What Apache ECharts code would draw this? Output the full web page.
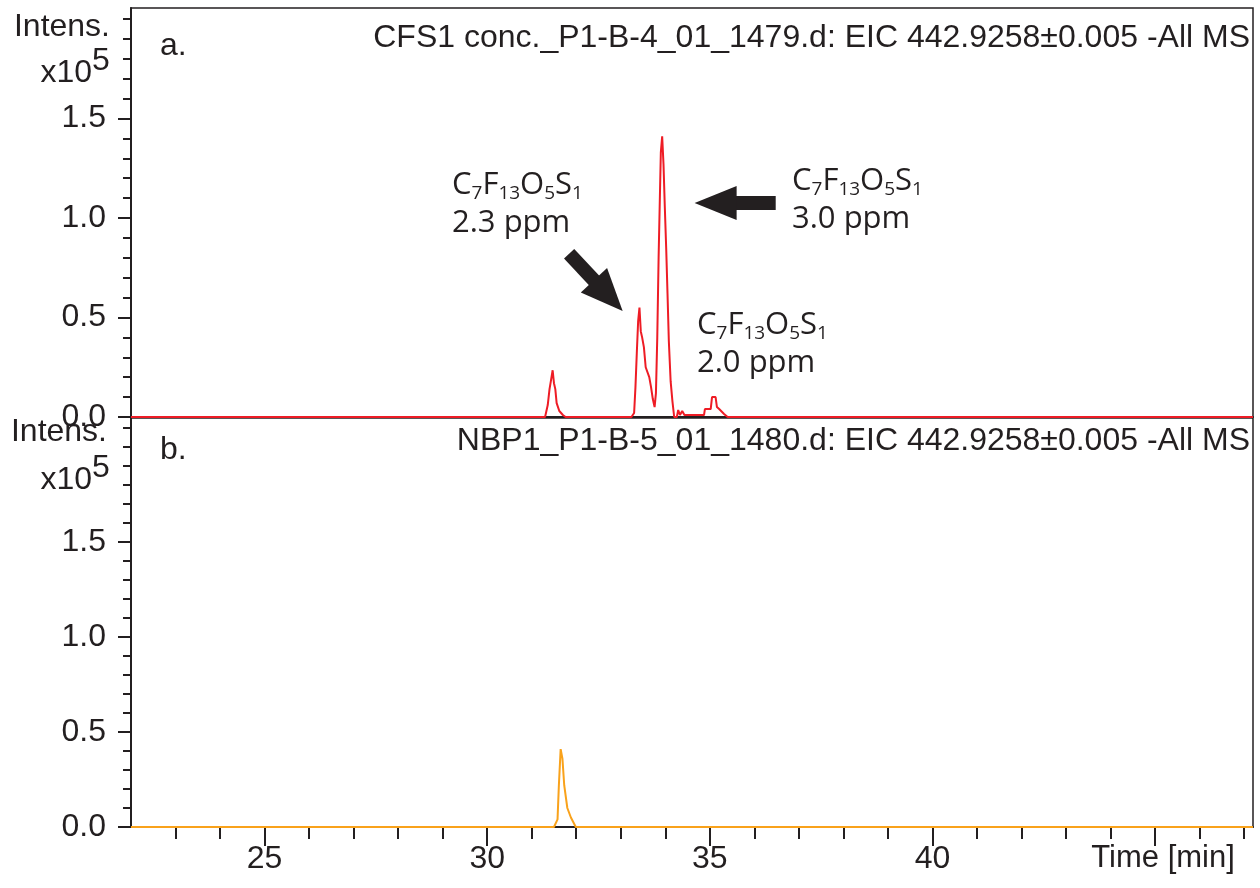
<!DOCTYPE html>
<html>
<head>
<meta charset="utf-8">
<script src="https://cdn.jsdelivr.net/npm/echarts@6.0.0/dist/echarts.min.js"></script>
<style>
  html, body { margin: 0; padding: 0; background: #fff; }
  #main { width: 1260px; height: 888px; }
</style>
</head>
<body>
<div id="main"></div>
<script>
// a. CFS1 conc. EIC trace (time in min, intensity in x10^5)
const redTime = [22.00, 31.30, 31.36, 31.40, 31.43, 31.47, 31.50, 31.53, 31.56, 31.62, 31.70, 31.76,
  33.24, 33.30, 33.33, 33.36, 33.39, 33.42, 33.45, 33.48, 33.52, 33.56, 33.60, 33.64, 33.68, 33.72, 33.76,
  33.79, 33.82, 33.85, 33.88, 33.90, 33.93, 33.96, 33.99, 34.02, 34.05, 34.08, 34.12, 34.16, 34.20,
  34.26, 34.29, 34.33, 34.38, 34.43, 34.87, 34.89, 35.02, 35.05, 35.13, 35.16, 35.21, 35.32, 35.40, 47.20];
const redIntens = [0, 0, 0.06, 0.14, 0.18, 0.235, 0.17, 0.14, 0.07, 0.03, 0.01, 0,
  0, 0.02, 0.15, 0.32, 0.48, 0.55, 0.43, 0.40, 0.35, 0.25, 0.24, 0.20, 0.15, 0.09, 0.05,
  0.12, 0.40, 0.80, 1.12, 1.33, 1.41, 1.27, 1.05, 0.85, 0.62, 0.38, 0.18, 0.08, 0,
  0, 0.035, 0.01, 0.03, 0.01, 0.01, 0.04, 0.04, 0.10, 0.10, 0.05, 0.04, 0.015, 0, 0];

// b. NBP1 EIC trace
const orangeTime = [22.00, 31.50, 31.58, 31.61, 31.65, 31.69, 31.73, 31.80, 31.88, 31.99, 47.20];
const orangeIntens = [0, 0, 0.04, 0.22, 0.41, 0.36, 0.22, 0.10, 0.05, 0, 0];

// ticks
const yLabelTicks = [0, 0.5, 1.0, 1.5];
const yMinorTicksA = [0, 0.1, 0.2, 0.3, 0.4, 0.5, 0.6, 0.7, 0.8, 0.9, 1.0, 1.1, 1.2, 1.3, 1.4, 1.5, 1.6, 1.7, 1.8, 1.9, 2.0];
const yMinorTicksB = [0, 0.1, 0.2, 0.3, 0.4, 0.5, 0.6, 0.7, 0.8, 0.9, 1.0, 1.1, 1.2, 1.3, 1.4, 1.5, 1.6, 1.7, 1.8, 1.9, 2.0, 2.1];
const xMajorTicks = [25, 30, 35, 40, 45];
const xMinorTicks = [23, 24, 26, 27, 28, 29, 31, 32, 33, 34, 36, 37, 38, 39, 41, 42, 43, 44, 46, 47];

const titleA = 'CFS1 conc._P1-B-4_01_1479.d: EIC 442.9258±0.005 -All MS';
const titleB = 'NBP1_P1-B-5_01_1480.d: EIC 442.9258±0.005 -All MS';
const notes = [
  { ppm: '2.3 ppm', left: 452, top: 170 },
  { ppm: '3.0 ppm', left: 792, top: 166 },
  { ppm: '2.0 ppm', left: 697, top: 310 }
];

const ink = '#231f20';
const font = 'Liberation Sans, Arial, sans-serif';
const xMin = 22, xMax = 47.2;

function pairs(xs, ys) {
  return xs.map((x, i) => [x, ys[i]]);
}

function yAxes(grid, max, minor) {
  return [{
    gridIndex: grid, type: 'value', min: 0, max: max, position: 'left',
    axisLine: { show: true, lineStyle: { color: ink, width: 2 } },
    axisTick: { show: true, inside: false, length: 13, customValues: yLabelTicks, lineStyle: { color: ink, width: 2 } },
    axisLabel: {
      customValues: yLabelTicks, margin: 25, color: ink, fontSize: 32, fontFamily: font,
      formatter: v => v.toFixed(1)
    },
    splitLine: { show: false }
  }, {
    gridIndex: grid, type: 'value', min: 0, max: max, position: 'left',
    axisLine: { show: false },
    axisTick: { show: true, length: 8, customValues: minor, lineStyle: { color: ink, width: 2 } },
    axisLabel: { show: false },
    splitLine: { show: false }
  }];
}

const chart = echarts.init(document.getElementById('main'), null, { renderer: 'canvas' });

const noteText = n => ({
  type: 'text', left: n.left, top: n.top, silent: true,
  style: {
    text: '{b|C}{s|7}{b|F}{s|13}{b|O}{s|5}{b|S}{s|1}\n{p|' + n.ppm + '}',
    fill: ink,
    rich: {
      b: { fontSize: 31, fontFamily: 'Open Sans', lineHeight: 36, fill: ink },
      s: { fontSize: 19, fontFamily: 'Open Sans', lineHeight: 20, verticalAlign: 'bottom', fill: ink },
      p: { fontSize: 31, fontFamily: 'Open Sans', lineHeight: 40, fill: ink }
    }
  }
});

const txt = (opt, text, size) => Object.assign({
  type: 'text', silent: true,
  style: { text: text, fontSize: size || 32, fontFamily: font, fill: ink }
}, opt);

chart.setOption({
  animation: false,
  backgroundColor: '#fff',
  grid: [
    { left: 131, top: 8, width: 1122, height: 409, show: true, borderColor: ink, borderWidth: 1.5 },
    { left: 131, top: 418, width: 1122, height: 409, show: true, borderColor: ink, borderWidth: 1.5 }
  ],
  xAxis: [{
    gridIndex: 0, type: 'value', min: xMin, max: xMax,
    axisLine: { lineStyle: { color: ink, width: 2 } },
    axisTick: { show: false }, axisLabel: { show: false }, splitLine: { show: false }
  }, {
    gridIndex: 1, type: 'value', min: xMin, max: xMax, position: 'bottom',
    axisLine: { lineStyle: { color: ink, width: 2 } },
    axisTick: { length: 19, customValues: xMajorTicks, lineStyle: { color: ink, width: 2 } },
    axisLabel: {
      customValues: xMajorTicks, margin: 16, color: ink, fontSize: 32, fontFamily: font,
      formatter: v => v === 45 ? '{t|Time [min]}' : String(v),
      rich: { t: { fontSize: 31, fontFamily: font, color: ink, padding: [0, 0, 0, 16] } }
    },
    splitLine: { show: false }
  }, {
    gridIndex: 1, type: 'value', min: xMin, max: xMax, position: 'bottom',
    axisLine: { show: false },
    axisTick: { length: 12, customValues: xMinorTicks, lineStyle: { color: ink, width: 2 } },
    axisLabel: { show: false }, splitLine: { show: false }
  }],
  yAxis: [].concat(yAxes(0, 2.055, yMinorTicksA), yAxes(1, 2.153, yMinorTicksB)),
  series: [{
    type: 'line', xAxisIndex: 0, yAxisIndex: 0,
    data: pairs(redTime, redIntens),
    symbol: 'none', z: 5,
    lineStyle: { color: '#ee1c25', width: 2 },
    markLine: {
      silent: true, symbol: ['none', 'triangle'],
      label: { show: false },
      lineStyle: { color: ink, width: 14, type: 'solid' },
      emphasis: { disabled: true },
      data: [
        [{ coord: [36.48, 1.075] }, { coord: [35.13, 1.075], symbol: 'triangle', symbolSize: [34, 42] }],
        [{ coord: [31.84, 0.82] }, { coord: [32.72, 0.61], symbol: 'triangle', symbolSize: [36, 42] }]
      ]
    }
  }, {
    type: 'line', xAxisIndex: 1, yAxisIndex: 2,
    data: pairs(orangeTime, orangeIntens),
    symbol: 'none', z: 5,
    lineStyle: { color: '#f9a21b', width: 2 }
  }],
  graphic: [
    txt({ right: 10, top: 22 }, titleA),
    txt({ right: 10, top: 425 }, titleB),
    txt({ left: 160, top: 30 }, 'a.'),
    txt({ left: 160, top: 434 }, 'b.'),
    txt({ right: 1150, top: 11 }, 'Intens.'),
    txt({ right: 1168, top: 57 }, 'x10'),
    txt({ left: 92, top: 45 }, '5'),
    txt({ right: 1153, top: 416 }, 'Intens.'),
    txt({ right: 1168, top: 464 }, 'x10'),
    txt({ left: 92, top: 452 }, '5')
  ].concat(notes.map(noteText))
});
</script>
</body>
</html>
